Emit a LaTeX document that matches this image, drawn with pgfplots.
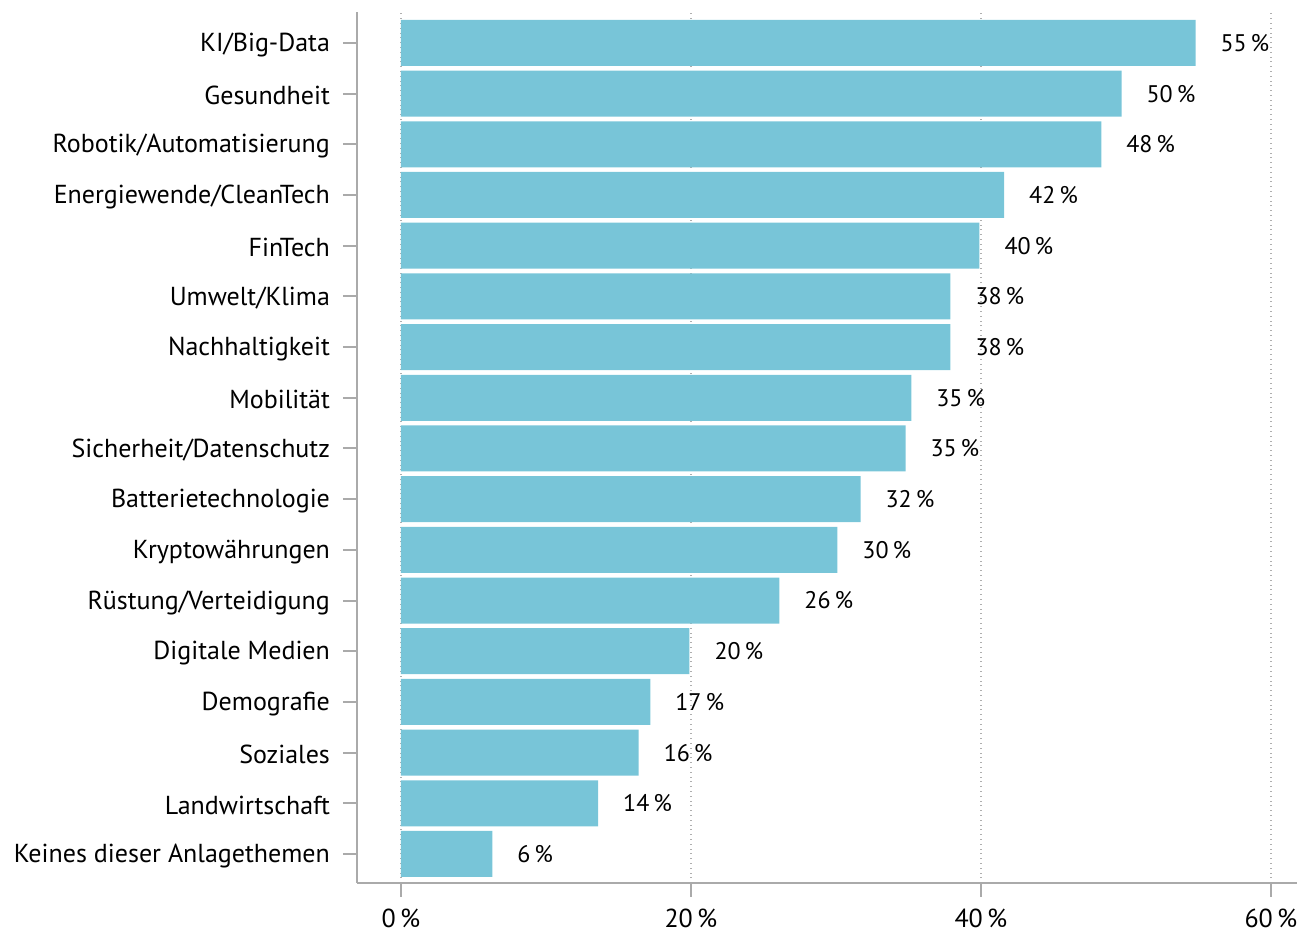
\documentclass[border=0pt]{standalone}
\usepackage{fontspec}
\setmainfont{PT Sans}
\usepackage{pgfplots}
\pgfplotsset{compat=1.18}
\usepackage{pgfplotstable}
\definecolor{barblue}{RGB}{120,197,216}
\definecolor{axgray}{RGB}{170,170,170}
\definecolor{gridgray}{RGB}{175,175,175}
\pgfplotstableread{
y x lab
16 54.8 55
15 49.7 50
14 48.3 48
13 41.6 42
12 39.9 40
11 37.9 38
10 37.9 38
9 35.2 35
8 34.8 35
7 31.7 32
6 30.1 30
5 26.1 26
4 19.9 20
3 17.2 17
2 16.4 16
1 13.6 14
0 6.3 6
}\datatab
\begin{document}
\begin{tikzpicture}
\useasboundingbox (0,0) rectangle (648.5pt,465pt);
\begin{axis}[
 at={(178.5pt,23.5pt)}, anchor=south west,
 scale only axis, width=470pt, height=435.5pt,
 xmin=-3.03, xmax=61.8, ymin=-0.572, ymax=16.61,
 axis x line*=bottom, axis y line*=left,
 axis line style={axgray, line width=1pt},
 xtick={0,20,40,60}, xticklabels={0\,\%,20\,\%,40\,\%,60\,\%},
 ytick={0,...,16},
 yticklabels={Keines dieser Anlagethemen, Landwirtschaft, Soziales, Demografie, Digitale Medien, Rüstung/Verteidigung, Kryptowährungen, Batterietechnologie, Sicherheit/Datenschutz, Mobilität, Nachhaltigkeit, Umwelt/Klima, FinTech, Energiewende/CleanTech, Robotik/Automatisierung, Gesundheit, KI/Big-Data},
 tick align=outside, major tick length=7pt,
 tick style={axgray, line width=1pt},
 xmajorgrids, major grid style={gridgray, dotted, line width=0.6pt},
 ticklabel style={font=\fontsize{13}{15}\selectfont},
 yticklabel style={xshift=-3pt, yshift=-1pt},
 xticklabel style={inner sep=0pt, text depth=0pt, yshift=-6pt},
 xbar, bar width=23pt, bar shift=0pt,
 nodes near coords={\pgfplotspointmeta\,\%},
 point meta=explicit symbolic,
 every node near coord/.append style={anchor=west, xshift=9pt, font=\fontsize{12}{14}\selectfont, text=black},
]
\addplot[fill=barblue, draw=none] table[x=x,y=y,meta=lab]{\datatab};
\end{axis}
\end{tikzpicture}
\end{document}
